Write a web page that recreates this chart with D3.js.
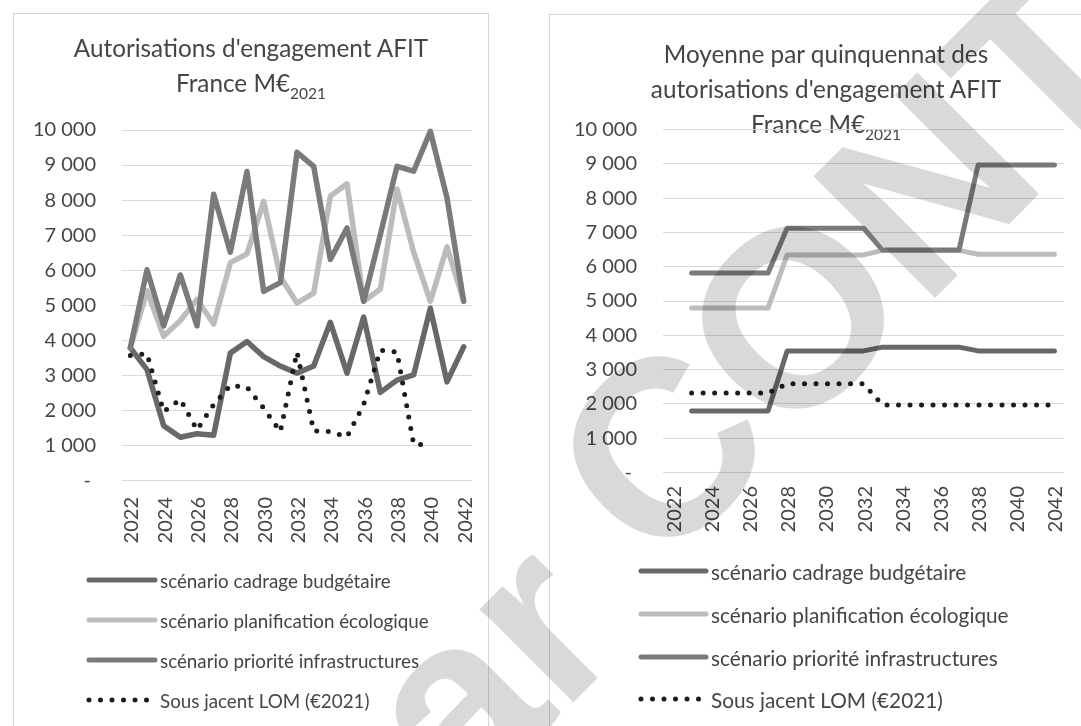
<!DOCTYPE html>
<html>
<head>
<meta charset="utf-8">
<script src="https://cdn.jsdelivr.net/npm/d3@7"></script>
<style>
  body { margin: 0; background: #fff; }
  svg { display: block; font-family: Lato, "Open Sans", sans-serif; }
</style>
</head>
<body>
<svg id="chart" width="1081" height="726"></svg>
<script>
// categories
const years = [2022, 2023, 2024, 2025, 2026, 2027, 2028, 2029, 2030, 2031, 2032,
               2033, 2034, 2035, 2036, 2037, 2038, 2039, 2040, 2041, 2042];
const yearTicks = [2022, 2024, 2026, 2028, 2030, 2032, 2034, 2036, 2038, 2040, 2042];
const valueTicks = [0, 1000, 2000, 3000, 4000, 5000, 6000, 7000, 8000, 9000, 10000];

const seriesNames = [
  "scénario cadrage budgétaire",
  "scénario planification écologique",
  "scénario priorité infrastructures",
  "Sous jacent LOM (€2021)"
];

// left chart : yearly AE, M€2021
const cadrageAnnual = [3770, 3150, 1550, 1220, 1320, 1280, 3620, 3950, 3520, 3250, 3050,
                       3250, 4500, 3050, 4650, 2500, 2850, 3000, 4900, 2800, 3800];
const planifAnnual = [3770, 5400, 4100, 4550, 5150, 4450, 6200, 6450, 7950, 5800, 5050,
                      5330, 8100, 8450, 5100, 5450, 8300, 6500, 5100, 6650, 5100];
const prioriteAnnual = [3770, 6000, 4400, 5850, 4400, 8150, 6500, 8800, 5380, 5630, 9350,
                        8950, 6290, 7190, 5100, 7000, 8950, 8810, 9950, 8050, 5100];
const lomAnnual = [3550, 3600, 1950, 2300, 1430, 2150, 2700, 2650, 2050, 1380, 3650,
                   1400, 1380, 1230, 2150, 3700, 3650, 1020, 1000, null, null];

// right chart : mean per five-year period
const cadrageMean = [null, 1780, 1780, 1780, 1780, 1780, 3530, 3530, 3530, 3530, 3530,
                     3640, 3640, 3640, 3640, 3640, 3530, 3530, 3530, 3530, 3530];
const planifMean = [null, 4780, 4780, 4780, 4780, 4780, 6330, 6330, 6330, 6330, 6330,
                    6460, 6460, 6460, 6460, 6460, 6350, 6350, 6350, 6350, 6350];
const prioriteMean = [null, 5800, 5800, 5800, 5800, 5800, 7110, 7110, 7110, 7110, 7110,
                      6470, 6470, 6470, 6470, 6470, 8950, 8950, 8950, 8950, 8950];
const lomMean = [null, 2300, 2300, 2300, 2300, 2300, 2570, 2570, 2570, 2570, 2570,
                 1950, 1950, 1950, 1950, 1950, 1950, 1950, 1950, 1950, 1950];

const colors = ["#686868", "#bcbcbc", "#7a7a7a", "#1c1c1c"];
const textColor = "#454545";

const fr = d3.formatLocale({ decimal: ",", thousands: "\u00a0", grouping: [3], currency: ["", "€"] });
const fmtFr = fr.format(",");

const svg = d3.select("#chart");

function drawChart(opt) {
  const g = svg.append("g");

  // frame
  g.append("rect")
    .attr("x", opt.box[0] + 0.5).attr("y", opt.box[1] + 0.5)
    .attr("width", opt.box[2]).attr("height", opt.box[3])
    .attr("fill", "none").attr("stroke", "#d6d6d6");

  // title
  const title = g.append("text")
    .attr("text-anchor", "middle")
    .attr("fill", textColor)
    .style("font-size", "24.3px");
  opt.title.forEach((line, i) => {
    title.append("tspan").attr("x", opt.titleX).attr("y", opt.titleY + i * 35).text(line);
    if (i === opt.title.length - 1) {
      title.append("tspan").attr("dy", 7).style("font-size", "15.5px").text("2021");
    }
  });

  const x = d3.scalePoint().domain(years).range([opt.x0, opt.x1]).padding(0.5);
  const y = d3.scaleLinear().domain([0, 10000]).range([opt.y0, opt.y1]);

  // gridlines
  g.append("g").selectAll("line").data(valueTicks).join("line")
    .attr("x1", opt.x0).attr("x2", opt.x1)
    .attr("y1", d => Math.round(y(d)) + 0.5).attr("y2", d => Math.round(y(d)) + 0.5)
    .attr("stroke", "#dadada");

  // y axis labels
  const yAxis = g.append("g")
    .attr("transform", `translate(${opt.labelX},0)`)
    .call(d3.axisLeft(y).tickValues(valueTicks).tickSize(0).tickPadding(0)
      .tickFormat(d => d === 0 ? "-" : fmtFr(d)));
  yAxis.select(".domain").remove();
  yAxis.selectAll("text")
    .attr("fill", textColor)
    .style("font-size", "20px")
    .style("font-family", "Lato, sans-serif")
    .attr("dx", d => d === 0 ? -5 : 0);

  // x axis labels (rotated)
  g.append("g").selectAll("text").data(yearTicks).join("text")
    .attr("transform", d => `translate(${x(d)},${opt.xLabelY}) rotate(-90)`)
    .attr("text-anchor", "end")
    .attr("dominant-baseline", "central")
    .attr("fill", textColor)
    .style("font-size", "20px")
    .text(d => d);

  // series
  const line = d3.line()
    .defined(d => d != null)
    .x((d, i) => x(years[i]))
    .y(d => y(d));

  opt.series.forEach((vals, k) => {
    const p = g.append("path")
      .datum(vals)
      .attr("d", line)
      .attr("fill", "none")
      .attr("stroke", colors[k])
      .attr("stroke-linejoin", "round")
      .attr("stroke-linecap", "round");
    if (k === 3) {
      p.attr("stroke-width", 5).attr("stroke-dasharray", "0 11.5");
    } else {
      p.attr("stroke-width", opt.lineW);
    }
  });

  // legend
  const leg = g.append("g").selectAll("g").data(seriesNames).join("g")
    .attr("transform", (d, i) => `translate(0,${opt.legendY[i]})`);
  leg.append("line")
    .attr("x1", opt.legendX[0]).attr("x2", opt.legendX[1])
    .attr("stroke", (d, i) => colors[i])
    .attr("stroke-width", 5)
    .attr("stroke-linecap", "round")
    .attr("stroke-dasharray", (d, i) => i === 3 ? "0 11.5" : null);
  leg.append("text")
    .attr("x", opt.legendX[2])
    .attr("dominant-baseline", "central")
    .attr("fill", textColor)
    .style("font-size", opt.legendSize)
    .text(d => d);
}

drawChart({
  box: [13, 13, 475, 760],
  title: ["Autorisations d'engagement AFIT", "France M€"],
  titleX: 251, titleY: 57,
  x0: 122, x1: 472, y0: 480, y1: 129.5,
  labelX: 96, xLabelY: 497, lineW: 5.5,
  series: [cadrageAnnual, planifAnnual, prioriteAnnual, lomAnnual],
  legendX: [89, 155, 160], legendY: [580, 620, 660, 700], legendSize: "18.8px"
});

drawChart({
  box: [549, 14, 600, 760],
  title: ["Moyenne par quinquennat des", "autorisations d'engagement AFIT", "France M€"],
  titleX: 826, titleY: 63,
  x0: 663, x1: 1064, y0: 472, y1: 129,
  labelX: 637, xLabelY: 486, lineW: 5,
  series: [cadrageMean, planifMean, prioriteMean, lomMean],
  legendX: [641, 706, 711], legendY: [571, 614, 657, 699], legendSize: "20.8px"
});

// "par CONTEXTE" watermark of the scanned page
const wm = svg.append("g")
  .attr("transform", "translate(658,575) rotate(-45)")
  .style("mix-blend-mode", "multiply")
  .attr("fill", "#d9d9d9")
  .style("font-family", "'Liberation Sans', Arial, sans-serif")
  .style("font-weight", "bold")
  .style("font-size", "250px");
wm.append("text").attr("x", -70).attr("y", 30).attr("text-anchor", "end").text("par");
wm.append("text").attr("x", 0).text("CONTEXTE");
</script>
</body>
</html>
